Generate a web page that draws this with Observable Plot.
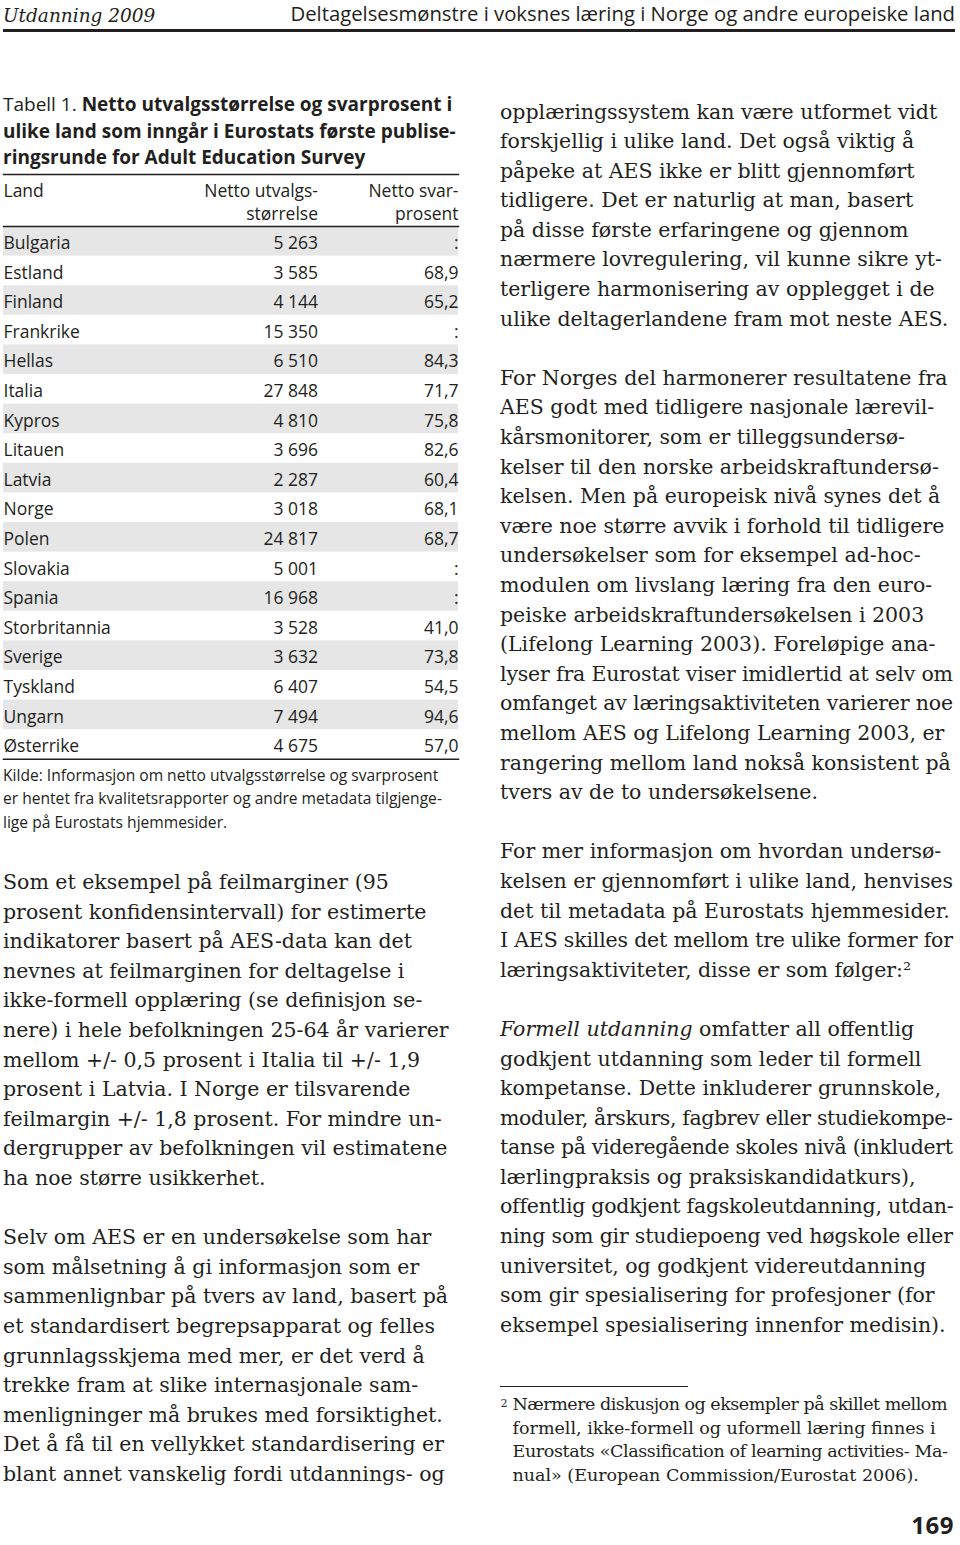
<!DOCTYPE html>
<html><head><meta charset="utf-8">
<script src="https://cdn.jsdelivr.net/npm/d3@7"></script>
<script src="https://cdn.jsdelivr.net/npm/@observablehq/plot@0.6"></script>
<style>
html,body{margin:0;padding:0}
body{width:960px;height:1545px;position:relative;background:#fff;color:#231f20;overflow:hidden}
.abs{position:absolute;white-space:nowrap}
.serif{font-family:"DejaVu Serif",serif;font-size:20.5px;line-height:29.6px}
.sans{font-family:"Open Sans",sans-serif}
.line{height:29.6px}
</style></head>
<body>
<div class="abs" id="hdrL" style="left:3px;top:3px;font-family:'DejaVu Serif',serif;font-style:italic;font-size:18.5px;line-height:26px">Utdanning 2009</div>
<div class="abs sans" id="hdrR" style="right:5px;top:0px;font-size:20.3px;line-height:26px">Deltagelsesmønstre i voksnes læring i Norge og andre europeiske land</div>
<div class="abs" style="left:3px;top:29px;width:952px;height:2.5px;background:#231f20"></div>

<div class="abs sans" id="title" style="left:3px;top:91px;font-size:19px;line-height:26.5px"></div>
<div class="abs" id="table" style="left:0;top:173px"></div>
<div class="abs sans" id="kilde" style="left:3px;top:764px;font-size:15.6px;line-height:23.3px"></div>

<div class="abs serif" id="colL" style="left:3px;top:868px"></div>
<div class="abs serif" id="colR" style="left:500px;top:97.5px"></div>

<div class="abs" style="left:500px;top:1385.5px;width:188px;height:1.2px;background:#231f20"></div>
<div class="abs" id="foot" style="left:512.5px;top:1393px;font-family:'DejaVu Serif',serif;font-size:17.5px;line-height:23.6px"></div>

<div class="abs sans" style="right:6px;top:1510px;font-size:24px;font-weight:700;line-height:30px;letter-spacing:0.5px">169</div>

<script>
// ---- table data ----
const land = ["Bulgaria","Estland","Finland","Frankrike","Hellas","Italia","Kypros","Litauen","Latvia","Norge","Polen","Slovakia","Spania","Storbritannia","Sverige","Tyskland","Ungarn","Østerrike"];
const utvalg = [5263,3585,4144,15350,6510,27848,4810,3696,2287,3018,24817,5001,16968,3528,3632,6407,7494,4675];
const svar = [null,68.9,65.2,null,84.3,71.7,75.8,82.6,60.4,68.1,68.7,null,null,41.0,73.8,54.5,94.6,57.0];
const columns = ["Land","Netto utvalgsstørrelse","Netto svarprosent"];
const headerLabels = ["Land","Netto utvalgs-\nstørrelse","Netto svar-\nprosent"];
const titleRegular = "Tabell 1. ";
const titleLines = ["Netto utvalgsstørrelse og svarprosent i","ulike land som inngår i Eurostats første publise-","ringsrunde for Adult Education Survey"];
const kildeLines = ["Kilde: Informasjon om netto utvalgsstørrelse og svarprosent","er hentet fra kvalitetsrapporter og andre metadata tilgjenge-","lige på Eurostats hjemmesider."];

// ---- body text ----
const leftLines = [
"Som et eksempel på feilmarginer (95",
"prosent konfidensintervall) for estimerte",
"indikatorer basert på AES-data kan det",
"nevnes at feilmarginen for deltagelse i",
"ikke-formell opplæring (se definisjon se-",
"nere) i hele befolkningen 25-64 år varierer",
"mellom +/- 0,5 prosent i Italia til +/- 1,9",
"prosent i Latvia. I Norge er tilsvarende",
"feilmargin +/- 1,8 prosent. For mindre un-",
"dergrupper av befolkningen vil estimatene",
"ha noe større usikkerhet.",
"",
"Selv om AES er en undersøkelse som har",
"som målsetning å gi informasjon som er",
"sammenlignbar på tvers av land, basert på",
"et standardisert begrepsapparat og felles",
"grunnlagsskjema med mer, er det verd å",
"trekke fram at slike internasjonale sam-",
"menligninger må brukes med forsiktighet.",
"Det å få til en vellykket standardisering er",
"blant annet vanskelig fordi utdannings- og"];
const rightLines = [
"opplæringssystem kan være utformet vidt",
"forskjellig i ulike land. Det også viktig å",
"påpeke at AES ikke er blitt gjennomført",
"tidligere. Det er naturlig at man, basert",
"på disse første erfaringene og gjennom",
"nærmere lovregulering, vil kunne sikre yt-",
"terligere harmonisering av opplegget i de",
"ulike deltagerlandene fram mot neste AES.",
"",
"For Norges del harmonerer resultatene fra",
"AES godt med tidligere nasjonale lærevil-",
"kårsmonitorer, som er tilleggsundersø-",
"kelser til den norske arbeidskraftundersø-",
"kelsen. Men på europeisk nivå synes det å",
"være noe større avvik i forhold til tidligere",
"undersøkelser som for eksempel ad-hoc-",
"modulen om livslang læring fra den euro-",
"peiske arbeidskraftundersøkelsen i 2003",
"(Lifelong Learning 2003). Foreløpige ana-",
"lyser fra Eurostat viser imidlertid at selv om",
"omfanget av læringsaktiviteten varierer noe",
"mellom AES og Lifelong Learning 2003, er",
"rangering mellom land nokså konsistent på",
"tvers av de to undersøkelsene.",
"",
"For mer informasjon om hvordan undersø-",
"kelsen er gjennomført i ulike land, henvises",
"det til metadata på Eurostats hjemmesider.",
"I AES skilles det mellom tre ulike former for",
"læringsaktiviteter, disse er som følger:²",
"",
"*Formell utdanning* omfatter all offentlig",
"godkjent utdanning som leder til formell",
"kompetanse. Dette inkluderer grunnskole,",
"moduler, årskurs, fagbrev eller studiekompe-",
"tanse på videregående skoles nivå (inkludert",
"lærlingpraksis og praksiskandidatkurs),",
"offentlig godkjent fagskoleutdanning, utdan-",
"ning som gir studiepoeng ved høgskole eller",
"universitet, og godkjent videreutdanning",
"som gir spesialisering for profesjoner (for",
"eksempel spesialisering innenfor medisin)."];
const footLines = [
"Nærmere diskusjon og eksempler på skillet mellom",
"formell, ikke-formell og uformell læring finnes i",
"Eurostats «Classification of learning activities- Ma-",
"nual» (European Commission/Eurostat 2006)."];

function fillLines(el, lines, cls, maxW) {
  for (const l of lines) {
    const d = document.createElement("div");
    if (cls) d.className = cls;
    const s = document.createElement("span");
    const m = l.match(/^\*(.+?)\*(.*)$/);
    if (m) {
      const i = document.createElement("i"); i.textContent = m[1];
      s.appendChild(i); s.appendChild(document.createTextNode(m[2]));
    } else s.textContent = l || "\u00a0";
    d.appendChild(s);
    el.appendChild(d);
    if (maxW) {
      const w = s.getBoundingClientRect().width;
      if (w > maxW) {
        const n = Math.max(1, l.replace(/\*/g, "").length - 1);
        s.style.letterSpacing = ((maxW - w) / n).toFixed(3) + "px";
      }
    }
  }
}
fillLines(document.getElementById("colL"), leftLines, "line", 453);
fillLines(document.getElementById("colR"), rightLines, "line", 453);
fillLines(document.getElementById("kilde"), kildeLines, null, 442);
const foot = document.getElementById("foot");
fillLines(foot, footLines, null, 435);
const sup = document.createElement("span");
sup.textContent = "2"; sup.style.cssText = "position:absolute;left:-12px;top:-1px;font-size:11px";
foot.appendChild(sup);

// title
const title = document.getElementById("title");
titleLines.forEach((t, i) => {
  const d = document.createElement("div");
  if (i === 0) { const s = document.createElement("span"); s.textContent = titleRegular; d.appendChild(s); }
  const b = document.createElement("span"); b.style.fontWeight = "700"; b.textContent = t; d.appendChild(b);
  title.appendChild(d);
});

// ---- table with Plot ----
const loc = d3.formatLocale({decimal: ",", thousands: " ", grouping: [3]});
const fN = loc.format(",d"), fP = loc.format(".1f");
const cells = land.flatMap((l, i) => [
  {col: columns[0], row: l, label: l},
  {col: columns[1], row: l, label: fN(utvalg[i])},
  {col: columns[2], row: l, label: svar[i] == null ? ":" : fP(svar[i])}
]);
const headers = columns.map((c, i) => ({col: c, label: headerLabels[i]}));
const rowH = 29.6;
const midShift = 317.5 - (3 + 458) / 2; // middle column sits right of centre
const fs = 17.5;
const ink = "#231f20";
const chart = Plot.plot({
  width: 460, height: 53 + land.length * rowH + 2,
  marginTop: 53, marginBottom: 2, marginLeft: 3, marginRight: 2,
  x: {type: "point", domain: columns, range: [3, 458], padding: 0, round: false, axis: null},
  y: {type: "band", domain: land, padding: 0, round: false, axis: null},
  style: {fontFamily: "'Open Sans', sans-serif", color: ink, background: "transparent"},
  marks: [
    Plot.cell(land.filter((d, i) => i % 2 === 0), {y: d => d, fill: "#e6e6e6"}),
    Plot.frame({anchor: "top", dy: -52, strokeWidth: 1.5, stroke: ink}),
    Plot.frame({anchor: "top", strokeWidth: 1.5, stroke: ink}),
    Plot.frame({anchor: "bottom", strokeWidth: 1.5, stroke: ink}),
    // header
    Plot.text(headers.filter(d => d.col === columns[0]), {x: "col", text: "label", frameAnchor: "top", lineAnchor: "top", dy: -45.5, textAnchor: "start", fontSize: fs, lineHeight: 1.31, fill: ink}),
    Plot.text(headers.filter(d => d.col === columns[1]), {x: "col", text: "label", frameAnchor: "top", lineAnchor: "top", dy: -45.5, dx: midShift, textAnchor: "end", fontSize: fs, lineHeight: 1.31, fill: ink}),
    Plot.text(headers.filter(d => d.col === columns[2]), {x: "col", text: "label", frameAnchor: "top", lineAnchor: "top", dy: -45.5, textAnchor: "end", fontSize: fs, lineHeight: 1.31, fill: ink}),
    // body
    Plot.text(cells.filter(d => d.col === columns[0]), {x: "col", y: "row", text: "label", textAnchor: "start", dy: 2, fontSize: fs, fill: ink}),
    Plot.text(cells.filter(d => d.col === columns[1]), {x: "col", y: "row", text: "label", textAnchor: "end", dx: midShift, dy: 2, fontSize: fs, fill: ink}),
    Plot.text(cells.filter(d => d.col === columns[2]), {x: "col", y: "row", text: "label", textAnchor: "end", dy: 2, fontSize: fs, fill: ink})
  ]
});
document.getElementById("table").appendChild(chart);
</script>
</body></html>
